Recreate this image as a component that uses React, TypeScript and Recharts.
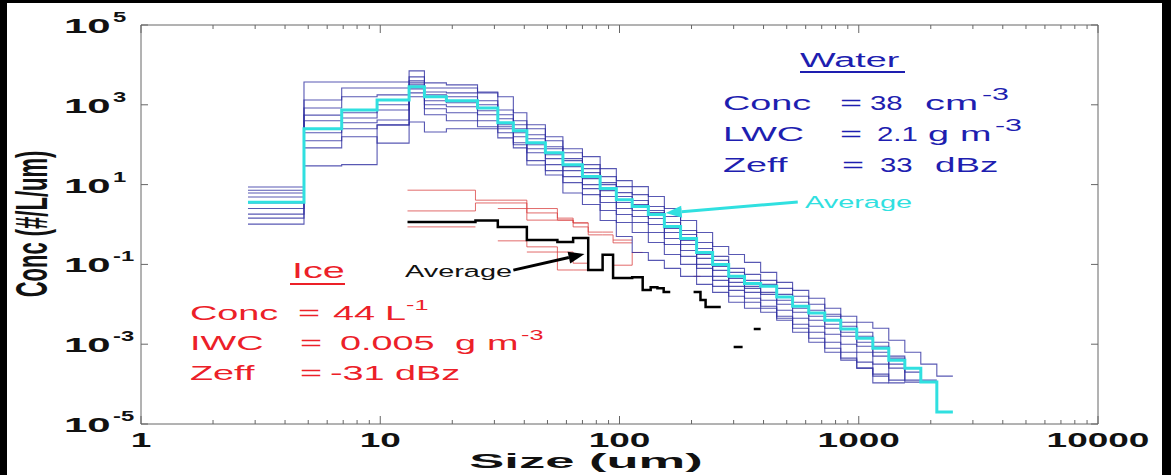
import { LineChart, Line, XAxis, YAxis, ReferenceLine } from "recharts";

// bin edges (um) and log10 concentrations (#/L/um)
const WATER_EDGES = [
  2.8, 4.8, 6.9, 9.7, 13.2, 15.3, 18.9, 25.5, 31, 36, 41, 49, 58, 70, 83, 97, 113, 132, 154, 180,
  210, 245, 286, 333, 389, 454, 529, 618, 721, 841, 981, 1145, 1335, 1558, 1817, 2120, 2474,
];

const WATER_AVG = [
  0.56, 2.4, 2.87, 3.12, 3.45, 3.2, 3.1, 2.92, 2.55, 2.35, 2.05, 1.8, 1.5, 1.2, 0.9, 0.62, 0.45,
  0.25, -0.05, -0.35, -0.7, -1.0, -1.3, -1.48, -1.55, -1.82, -2.05, -2.22, -2.4, -2.62, -2.85,
  -3.1, -3.4, -3.6, -3.95, -4.7,
];

const WATER_1 = [
  0.94, 3.57, 3.57, 3.57, 3.85, 3.55, 3.5, 3.3, 3.2, 2.8, 2.5, 2.2, 1.9, 1.7, 1.4, 1.1, 0.95, 0.7,
  0.4, 0.1, -0.2, -0.55, -0.75, -0.95, -1.2, -1.45, -1.65, -1.85, -2.1, -2.3, -2.45, -2.6, -2.9,
  -3.2, -3.5, -3.8,
];
const WATER_2 = [
  0.86, 3.12, 3.42, 3.42, 3.7, 3.42, 3.42, 3.32, 2.87, 2.6, 2.4, 2.1, 1.8, 1.5, 1.2, 0.95, 0.75,
  0.45, 0.2, -0.15, -0.45, -0.8, -1.1, -1.25, -1.4, -1.6, -1.8, -2.0, -2.25, -2.45, -2.7, -2.95,
  -3.3, -3.6, -3.9,
];
const WATER_3 = [
  0.79, 2.92, 3.2, 3.25, 3.6, 3.32, 3.3, 3.1, 2.75, 2.5, 2.25, 1.95, 1.65, 1.4, 1.05, 0.8, 0.6,
  0.35, 0.05, -0.25, -0.6, -0.9, -1.2, -1.4, -1.5, -1.75, -1.95, -2.15, -2.3, -2.55, -2.8, -3.05,
  -3.35, -3.7,
];
const WATER_4 = [
  0.69, 2.74, 2.8, 3.0, 3.55, 3.25, 3.2, 3.0, 2.65, 2.4, 2.15, 1.9, 1.6, 1.3, 1.0, 0.7, 0.5, 0.3,
  -0.1, -0.4, -0.75, -1.05, -1.35, -1.55, -1.7, -1.9, -2.1, -2.3, -2.5, -2.7, -2.95, -3.2, -3.5,
  -3.9,
];
const WATER_5 = [
  0.54, 2.6, 2.67, 2.87, 3.5, 3.1, 3.05, 2.85, 2.5, 2.3, 2.0, 1.75, 1.45, 1.15, 0.85, 0.55, 0.35,
  0.15, -0.2, -0.5, -0.85, -1.15, -1.45, -1.6, -1.75, -2.0, -2.2, -2.4, -2.6, -2.8, -3.05, -3.3,
  -3.6, -3.95,
];
const WATER_6 = [
  0.26, 2.3, 2.55, 2.62, 3.4, 3.0, 2.95, 2.75, 2.45, 2.2, 1.9, 1.65, 1.35, 1.0, 0.7, 0.4, 0.2, 0.0,
  -0.35, -0.65, -1.0, -1.3, -1.55, -1.7, -1.9, -2.15, -2.35, -2.55, -2.75, -3.0, -3.2, -3.5, -3.9,
];
const WATER_7 = [
  0.16, 2.1, 2.4, 2.5, 3.3, 2.9, 2.8, 2.6, 2.3, 2.05, 1.8, 1.5, 1.2, 0.9, 0.55, 0.25, 0.05, -0.2,
  -0.5, -0.8, -1.1, -1.4, -1.65, -1.85, -2.05, -2.3, -2.5, -2.7, -2.95, -3.2, -3.45, -3.75, -3.97,
];
const WATER_8 = [
  0.01, 1.92, 2.2, 2.04, 3.2, 2.75, 2.6, 2.45, 2.17, 1.92, 1.6, 1.35, 1.05, 0.75, 0.35, 0.05, -0.2,
  -0.45, -0.75, -1.0, -1.3, -1.55, -1.8, -1.95, -2.1, -2.35, -2.6, -2.85, -3.1, -3.35, -3.6, -3.97,
];
const WATER_9 = [
  0.4, 1.47, 1.5, 2.49, 2.57, 2.32, 2.4, 2.4, 2.4, 2.0, 1.49, 1.24, 0.79, 0.5, 0.1, -0.3, -0.7,
  -0.9, -1.1, -1.3, -1.5, -1.7, -1.95, -2.1, -2.2, -2.4, -2.7, -2.95, -3.2, -3.4, -3.6, -3.8,
];
const WATER_LINES = [WATER_1, WATER_2, WATER_3, WATER_4, WATER_5, WATER_6, WATER_7, WATER_8, WATER_9];

const ICE_EDGES = [
  13, 25, 31, 41, 55, 64, 74, 85, 94, 113, 125, 135, 144, 153, 163, 204, 218, 229, 265, 300, 327,
  364, 389,
];
const ICE_AVG = [
  0.06, 0.1, -0.06, -0.39, -0.44, -0.34, -1.14, -0.76, -1.34, -1.32, -1.64, -1.57, -1.6, -1.69,
  null, -1.69, -1.89, -2.07, null, -3.07, null, -2.62,
];
const ICE_1 = [0.86, 0.61, 0.61, 0.4, 0.11, 0.04, -0.26, -0.26, -0.46];
const ICE_2 = [0.34, 0.54, 0.54, 0.29, 0.16, -0.06, -0.19, -0.19];
const ICE_3 = [-0.06, null, 0.4, 0.11, 0.11, 0.04];
const ICE_4 = [null, null, -0.41, -0.56, -0.69, -0.97, null, null, -0.39];
const ICE_5 = [null, null, null, -0.69, -1.14, -1.14];
const ICE_6 = [null, null, null, null, null, null, null, null, -1.02, -0.7, null, null, null, null, null, -1.3];
const ICE_LINES = [ICE_1, ICE_2, ICE_3, ICE_4, ICE_5, ICE_6];

const X_MAJOR = [1, 10, 100, 1000, 10000];
const X_MINOR_STEPS = [2, 3, 4, 5, 6, 7, 8, 9];
const Y_TICKS = [1e-5, 1e-3, 1e-1, 1e1, 1e3, 1e5];

const FONT = "'Liberation Sans', Arial, Helvetica, sans-serif";
const AXIS = "#666";
const BLUE = "#2e2ea0";
const CYAN = "#30e0e0";
const RED = "#d83a3a";
const WATER_TEXT = "#1e1eb0";
const ICE_TEXT = "#ec2028";

// chart box inside the image
const OX = 7;
const OY = 3;
const PLOT_L = 134;
const PLOT_T = 22;
const PLOT_W = 957;
const PLOT_H = 399;

const X_TICKS = [
  ...X_MAJOR.slice(0, -1).flatMap((d) => [d, ...X_MINOR_STEPS.map((m) => m * d)]),
  X_MAJOR[X_MAJOR.length - 1],
];

// histogram outline: flat segment per bin, null breaks the line
function stairs(edges: number[], logs: (number | null)[]) {
  const pts: { x: number; y: number | null }[] = [];
  logs.forEach((v, i) => {
    if (v === null) {
      pts.push({ x: edges[i], y: null });
      return;
    }
    pts.push({ x: edges[i], y: 10 ** v }, { x: edges[i + 1], y: 10 ** v });
  });
  return pts;
}

function XTick(props: any) {
  const { x, payload } = props;
  const v = payload.value as number;
  const e = Math.log10(v);
  const major = Math.abs(e - Math.round(e)) < 1e-6;
  const len = major ? 8 : 4;
  const bottom = PLOT_T + PLOT_H;
  return (
    <g>
      <line x1={x} x2={x} y1={bottom} y2={bottom - len} stroke={AXIS} />
      <line x1={x} x2={x} y1={PLOT_T} y2={PLOT_T + len} stroke={AXIS} />
      {major && (
        <text
          transform={`translate(${x} ${bottom + 23}) scale(1.85 1)`}
          textAnchor="middle"
          fontSize={20}
          fontWeight={700}
          fontFamily={FONT}
          fill="#111"
        >
          {String(v)}
        </text>
      )}
    </g>
  );
}

function YTick(props: any) {
  const { y, payload } = props;
  const e = Math.round(Math.log10(payload.value));
  return (
    <g>
      <line x1={PLOT_L} x2={PLOT_L + 7} y1={y} y2={y} stroke={AXIS} />
      <line x1={PLOT_L + PLOT_W} x2={PLOT_L + PLOT_W - 7} y1={y} y2={y} stroke={AXIS} />
      <text
        transform={`translate(57 ${y + 8}) scale(2.1 1)`}
        fontSize={20}
        fontWeight={700}
        fontFamily={FONT}
        fill="#111"
      >
        10
      </text>
      <text
        transform={`translate(106 ${y - 3}) scale(1.7 1)`}
        fontSize={14}
        fontWeight={700}
        fontFamily={FONT}
        fill="#111"
      >
        {String(e)}
      </text>
    </g>
  );
}

function arrow(color: string) {
  return (props: any) => {
    const { x1, y1, x2, y2 } = props;
    const a = Math.atan2(y2 - y1, x2 - x1);
    const L = 16;
    const W = 6;
    const bx = x2 - L * Math.cos(a);
    const by = y2 - L * Math.sin(a);
    const px = -Math.sin(a) * W;
    const py = Math.cos(a) * W;
    return (
      <g>
        <line x1={x1} y1={y1} x2={bx} y2={by} stroke={color} strokeWidth={3} />
        <polygon points={`${x2},${y2} ${bx + px},${by + py} ${bx - px},${by - py}`} fill={color} />
      </g>
    );
  };
}

function T({
  x,
  y,
  size,
  fill,
  s = 1.8,
  weight = 400,
  children,
}: {
  x: number;
  y: number;
  size: number;
  fill: string;
  s?: number;
  weight?: number;
  children: React.ReactNode;
}) {
  return (
    <text
      transform={`translate(${x} ${y}) scale(${s} 1)`}
      fontSize={size}
      fontWeight={weight}
      fontFamily={FONT}
      fill={fill}
    >
      {children}
    </text>
  );
}

export default function App() {
  return (
    <div style={{ position: "fixed", left: 0, top: 0, width: 1171, height: 475, background: "#000" }}>
      <div
        style={{ position: "absolute", left: OX, top: OY, width: 1155, height: 472, background: "#fff" }}
      >
        <LineChart width={1155} height={469} margin={{ top: PLOT_T, right: 1155 - PLOT_L - PLOT_W, bottom: 0, left: 0 }}>
          <XAxis
            dataKey="x"
            type="number"
            scale="log"
            domain={[1, 10000]}
            allowDataOverflow
            ticks={X_TICKS}
            interval={0}
            height={469 - PLOT_T - PLOT_H}
            tick={<XTick />}
            tickLine={false}
            tickSize={0}
            tickMargin={0}
            axisLine={{ stroke: AXIS }}
          />
          <YAxis
            type="number"
            scale="log"
            domain={[1e-5, 1e5]}
            allowDataOverflow
            ticks={Y_TICKS}
            interval={0}
            width={PLOT_L}
            tick={<YTick />}
            tickLine={false}
            tickSize={0}
            tickMargin={0}
            axisLine={{ stroke: AXIS }}
          />
          <ReferenceLine y={1e5} stroke={AXIS} />
          <ReferenceLine x={10000} stroke={AXIS} />
          {ICE_LINES.map((vals, i) => (
            <Line
              key={`ice${i}`}
              data={stairs(ICE_EDGES, vals)}
              dataKey="y"
              type="linear"
              stroke={RED}
              strokeWidth={1}
              strokeOpacity={0.75}
              dot={false}
              activeDot={false}
              isAnimationActive={false}
            />
          ))}
          {WATER_LINES.map((vals, i) => (
            <Line
              key={`w${i}`}
              data={stairs(WATER_EDGES, vals)}
              dataKey="y"
              type="linear"
              stroke={BLUE}
              strokeWidth={1.1}
              strokeOpacity={0.8}
              dot={false}
              activeDot={false}
              isAnimationActive={false}
            />
          ))}
          <Line
            data={stairs(ICE_EDGES, ICE_AVG)}
            dataKey="y"
            type="linear"
            stroke="#000"
            strokeWidth={2.5}
            dot={false}
            activeDot={false}
            isAnimationActive={false}
          />
          <Line
            data={stairs(WATER_EDGES, WATER_AVG)}
            dataKey="y"
            type="linear"
            stroke={CYAN}
            strokeWidth={3}
            dot={false}
            activeDot={false}
            isAnimationActive={false}
          />
          <ReferenceLine
            segment={[{ x: 556, y: 3.66 }, { x: 156, y: 1.94 }]}
            ifOverflow="visible"
            shape={arrow(CYAN)}
          />
          <ReferenceLine
            segment={[{ x: 36, y: 0.072 }, { x: 71.4, y: 0.182 }]}
            ifOverflow="visible"
            shape={arrow("#000")}
          />
        </LineChart>
      </div>
      <svg
        width={1171}
        height={475}
        style={{ position: "absolute", left: 0, top: 0, pointerEvents: "none" }}
      >
        <text
          transform="translate(47 224) rotate(-90) scale(1 2)"
          textAnchor="middle"
          fontSize={22}
          fontWeight={700}
          fontFamily={FONT}
          fill="#111"
        >
          Conc (#/L/um)
        </text>
        <text
          transform="translate(586 468) scale(2.5 1)"
          textAnchor="middle"
          fontSize={21}
          fontWeight={700}
          fontFamily={FONT}
          fill="#111"
        >
          Size (um)
        </text>

        <T x={800} y={67} size={21} fill={WATER_TEXT}>Water</T>
        <line x1={800} x2={905} y1={72} y2={72} stroke={WATER_TEXT} strokeWidth={2} />
        <T x={723} y={110} size={21} fill={WATER_TEXT}>Conc</T>
        <T x={840} y={110} size={21} fill={WATER_TEXT}>=</T>
        <T x={870} y={110} size={21} s={1.4} fill={WATER_TEXT}>38</T>
        <T x={925} y={110} size={21} s={1.9} fill={WATER_TEXT}>cm</T>
        <T x={982} y={100} size={16} s={1.9} fill={WATER_TEXT}>-3</T>
        <T x={723} y={141} size={21} fill={WATER_TEXT}>LWC</T>
        <T x={840} y={141} size={21} fill={WATER_TEXT}>=</T>
        <T x={877} y={141} size={21} s={1.4} fill={WATER_TEXT}>2.1</T>
        <T x={928} y={141} size={21} fill={WATER_TEXT}>g</T>
        <T x={960} y={141} size={21} s={1.8} fill={WATER_TEXT}>m</T>
        <T x={995} y={131} size={16} s={1.9} fill={WATER_TEXT}>-3</T>
        <T x={723} y={172} size={21} fill={WATER_TEXT}>Zeff</T>
        <T x={842} y={172} size={21} fill={WATER_TEXT}>=</T>
        <T x={880} y={172} size={21} s={1.4} fill={WATER_TEXT}>33</T>
        <T x={935} y={172} size={21} s={1.75} fill={WATER_TEXT}>dBz</T>
        <T x={805} y={208} size={17} s={1.7} fill={CYAN}>Average</T>

        <T x={292} y={278} size={22} fill={ICE_TEXT}>Ice</T>
        <line x1={290} x2={345} y1={284} y2={284} stroke={ICE_TEXT} strokeWidth={2} />
        <T x={190} y={320} size={21} fill={ICE_TEXT}>Conc</T>
        <T x={298} y={320} size={21} fill={ICE_TEXT}>=</T>
        <T x={333} y={320} size={21} fill={ICE_TEXT}>44</T>
        <T x={385} y={320} size={21} fill={ICE_TEXT}>L</T>
        <T x={406} y={310} size={14} fill={ICE_TEXT}>-1</T>
        <T x={190} y={350} size={21} fill={ICE_TEXT}>IWC</T>
        <T x={300} y={350} size={21} fill={ICE_TEXT}>=</T>
        <T x={340} y={350} size={21} fill={ICE_TEXT}>0.005</T>
        <T x={455} y={350} size={21} fill={ICE_TEXT}>g</T>
        <T x={487} y={350} size={21} fill={ICE_TEXT}>m</T>
        <T x={521} y={340} size={14} fill={ICE_TEXT}>-3</T>
        <T x={190} y={380} size={21} fill={ICE_TEXT}>Zeff</T>
        <T x={300} y={380} size={21} fill={ICE_TEXT}>=</T>
        <T x={330} y={380} size={21} fill={ICE_TEXT}>-31</T>
        <T x={395} y={380} size={21} fill={ICE_TEXT}>dBz</T>
        <T x={405} y={277} size={17} s={1.7} fill="#111">Average</T>
      </svg>
    </div>
  );
}
